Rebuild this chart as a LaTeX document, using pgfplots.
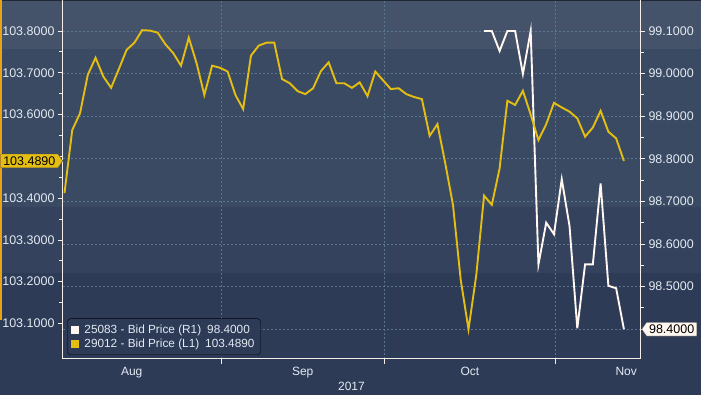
\documentclass[border=0pt]{standalone}
\usepackage{pgfplots}
\pgfplotsset{compat=1.18}
\usepackage{fontspec}
\setmainfont{Liberation Sans}
\usetikzlibrary{shapes.symbols}
\definecolor{bandA}{HTML}{44526A}
\definecolor{bandB}{HTML}{3B4A63}
\definecolor{bandC}{HTML}{34425D}
\definecolor{bandD}{HTML}{2E3B57}
\definecolor{gridc}{HTML}{5A7590}
\definecolor{ylw}{RGB}{228,190,16}
\definecolor{wht}{RGB}{255,247,240}
\definecolor{lbl}{HTML}{E2EAF2}
\definecolor{orng}{HTML}{E8A317}
\definecolor{topbar}{HTML}{1F2636}

\pgfplotstableread{
x y
0 103.412
1 103.563
2 103.603
3 103.695
4 103.736
5 103.691
6 103.664
7 103.709
8 103.755
9 103.772
10 103.802
11 103.801
12 103.796
13 103.768
14 103.747
15 103.717
16 103.784
17 103.723
18 103.647
19 103.717
20 103.712
21 103.703
22 103.647
23 103.613
24 103.741
25 103.765
26 103.772
27 103.772
28 103.685
29 103.675
30 103.656
31 103.649
32 103.663
33 103.704
34 103.725
35 103.675
36 103.675
37 103.664
38 103.677
39 103.644
40 103.703
41 103.682
42 103.661
43 103.663
44 103.649
45 103.642
46 103.637
47 103.549
48 103.577
49 103.484
50 103.384
51 103.204
52 103.086
53 103.216
54 103.406
55 103.384
56 103.471
57 103.633
58 103.623
59 103.657
60 103.600
61 103.539
62 103.577
63 103.628
64 103.617
65 103.607
66 103.591
67 103.547
68 103.569
69 103.609
70 103.559
71 103.543
72 103.489
}\yellowdata

\pgfplotstableread{
x y
54 99.100
55 99.100
56 99.053
57 99.100
58 99.100
59 98.999
60 99.100
61 98.552
62 98.650
63 98.623
64 98.752
65 98.642
66 98.402
67 98.552
68 98.552
69 98.742
70 98.502
71 98.496
72 98.400
}\whitedata

\pgfplotsset{
  common/.style={
    at={(63pt,36pt)}, anchor=south west, scale only axis,
    width=577pt, height=359pt,
    xmin=-0.19, xmax=74.07,
    axis line style={-, wht!92!gray, line width=1pt},
    tick align=outside,
    major tick length=5pt, minor tick length=3.5pt,
    every tick/.style={wht!92!gray, line width=0.8pt},
    minor y tick num=1,
    ticklabel style={font=\fontsize{12.5}{14}\selectfont, text=lbl},
  }
}

\begin{document}
\begin{tikzpicture}[x=1pt,y=1pt]
\useasboundingbox (0,0) rectangle (701,395);
\fill[bandD] (0,0) rectangle (701,122);
\fill[bandC] (0,122) rectangle (701,188);
\fill[bandB] (0,188) rectangle (701,346);
\fill[bandA] (0,346) rectangle (701,395);
\fill[topbar] (0,394) rectangle (701,395);
\fill[orng] (0,75) rectangle (1.5,395);

% right axis (white series)
\begin{axis}[common,
  ymin=98.3300, ymax=99.1728,
  axis y line*=right, axis x line*=bottom,
  ytick={98.4,98.5,98.6,98.7,98.8,98.9,99.0,99.1},
  yticklabels={,98.5000,98.6000,98.7000,98.8000,98.9000,99.0000,99.1000},
  xtick={20.23,41.16,63.22}, xticklabels={,,},
  xmajorgrids, ymajorgrids,
  grid style={gridc, line width=0.6pt, dash pattern=on 2pt off 2pt},
  xlabel={2017},
  xlabel style={font=\fontsize{12}{14}\selectfont, text=lbl, yshift=-8pt},
]
\addplot[color=wht, line width=1.9pt] table[x=x, y=y] {\whitedata};
\coordinate (wtag) at (axis cs:74.07,98.4);
\end{axis}

% left axis (yellow series)
\begin{axis}[common,
  ymin=103.0150, ymax=103.8742,
  axis y line*=left, axis x line*=bottom,
  ytick={103.1,103.2,103.3,103.4,103.5,103.6,103.7,103.8},
  yticklabels={103.1000,103.2000,103.3000,103.4000,,103.6000,103.7000,103.8000},
  xtick={8.65,30.66,52.19,72.3}, xticklabels={Aug,Sep,Oct,Nov},
  xtick style={draw=none},
  xticklabel style={font=\fontsize{12}{14}\selectfont},
  legend style={at={(0,0)}, anchor=south west, xshift=4.3pt, yshift=4pt,
    draw=black, fill=bandD, rounded corners=3pt, text=lbl,
    font=\fontsize{11.8}{13.5}\selectfont, inner xsep=4pt, inner ysep=4pt,
    row sep=0pt, /tikz/every odd column/.append style={column sep=3pt}},
  legend cell align=left,
  legend image code/.code={\fill[#1,draw=none,sharp corners] (2pt,-4pt) rectangle (10pt,4pt);},
]
\addlegendimage{color=wht}
\addlegendentry{25083 - Bid Price (R1)\hspace{6pt}98.4000}
\addplot[color=ylw, line width=1.9pt] table[x=x, y=y] {\yellowdata};
\addlegendentry{29012 - Bid Price (L1)\hspace{6pt}103.4890}
\coordinate (ytag) at (axis cs:-0.19,103.489);
\end{axis}

\node[signal, signal to=east, signal pointer angle=110, fill=ylw, draw=black!70,
  anchor=east, inner xsep=2.5pt, inner ysep=2.5pt, text=black,
  font=\fontsize{12.5}{14}\selectfont] at (ytag) {103.4890};
\node[signal, signal to=west, signal pointer angle=110, fill=wht, draw=black!70,
  anchor=west, xshift=1.5pt, inner xsep=2.5pt, inner ysep=2.5pt, text=black,
  font=\fontsize{12.5}{14}\selectfont] at (wtag) {98.4000};
\end{tikzpicture}
\end{document}
